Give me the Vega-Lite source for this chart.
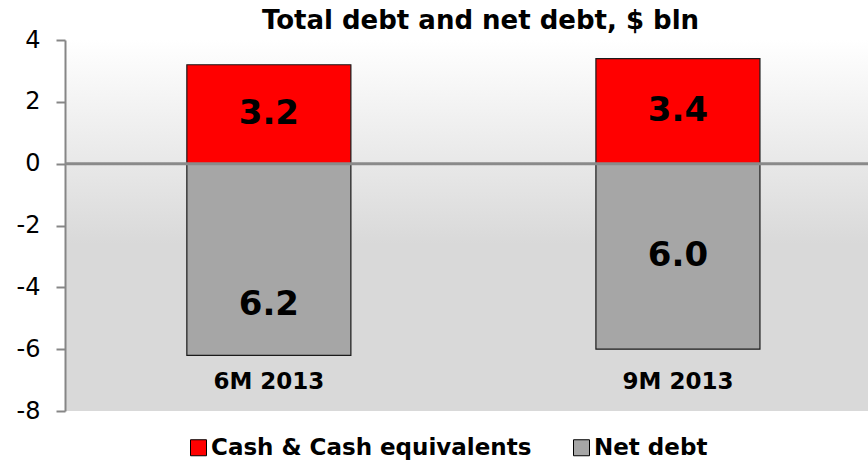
{
  "$schema": "https://vega.github.io/schema/vega-lite/v6.json",
  "width": 803,
  "height": 371,
  "autosize": {"type": "none"},
  "padding": {"left": 65, "top": 40, "right": 0, "bottom": 53},
  "background": "white",
  "title": {
    "text": "Total debt and net debt, $ bln",
    "font": "DejaVu Sans",
    "fontSize": 26,
    "fontWeight": "bold",
    "color": "#000000",
    "anchor": "middle",
    "frame": "group",
    "dx": 14,
    "offset": 8,
    "dy": 14
  },
  "data": {
    "values": [
      {"period": "6M 2013", "series": "Cash & Cash equivalents", "value": 3.2},
      {"period": "6M 2013", "series": "Net debt", "value": -6.2},
      {"period": "9M 2013", "series": "Cash & Cash equivalents", "value": 3.4},
      {"period": "9M 2013", "series": "Net debt", "value": -6.0}
    ]
  },
  "transform": [
    {"calculate": "format(abs(datum.value), '.1f')", "as": "label"},
    {"calculate": "datum.value / 2", "as": "mid"}
  ],
  "layer": [
    {
      "mark": {"type": "bar", "stroke": "#1a1a1a", "strokeWidth": 1.2},
      "encoding": {
        "x": {
          "field": "period",
          "type": "nominal",
          "axis": null,
          "scale": {"paddingInner": 0.599, "paddingOuter": 0.281, "align": 0.53}
        },
        "y": {
          "field": "value",
          "type": "quantitative",
          "title": null,
          "scale": {"domain": [-8, 4], "nice": false, "zero": false},
          "axis": {
            "values": [-8, -6, -4, -2, 0, 2, 4],
            "labelExpr": "(datum.value < 0 ? '-' : '') + abs(datum.value)",
            "grid": false,
            "domainColor": "#868686",
            "domainWidth": 2,
            "tickColor": "#868686",
            "tickWidth": 2,
            "tickSize": 9,
            "labelFont": "DejaVu Sans",
            "labelFontSize": 24,
            "labelColor": "#000000",
            "labelPadding": 16,
            "labelFlush": false,
            "labelOverlap": false
          }
        },
        "color": {
          "field": "series",
          "type": "nominal",
          "scale": {"domain": ["Cash & Cash equivalents", "Net debt"], "range": ["#ff0000", "#a6a6a6"]},
          "legend": {
            "title": null,
            "orient": "none",
            "legendX": 122,
            "legendY": 396,
            "direction": "horizontal",
            "symbolType": "square",
            "symbolSize": 256,
            "symbolStrokeColor": "#000000",
            "symbolStrokeWidth": 1,
            "symbolOpacity": 1,
            "labelFont": "DejaVu Sans",
            "labelFontSize": 23,
            "labelFontWeight": "bold",
            "labelColor": "#000000",
            "labelOffset": 1,
            "columnPadding": 38,
            "labelLimit": 500
          }
        }
      }
    },
    {
      "data": {"values": [{"line": "zero"}]},
      "mark": {"type": "rule", "color": "#8a8a8a", "strokeWidth": 3},
      "encoding": {"y": {"datum": 0, "type": "quantitative", "title": null}}
    },
    {
      "transform": [{"filter": "!(datum.period == '6M 2013' && datum.series == 'Net debt')"}],
      "mark": {"type": "text", "font": "DejaVu Sans", "fontSize": 34, "fontWeight": "bold", "color": "#000000", "align": "center", "baseline": "middle"},
      "encoding": {
        "x": {"field": "period", "type": "nominal"},
        "y": {"field": "mid", "type": "quantitative", "title": null},
        "text": {"field": "label"}
      }
    },
    {
      "transform": [{"filter": "datum.period == '6M 2013' && datum.series == 'Net debt'"}],
      "mark": {"type": "text", "font": "DejaVu Sans", "fontSize": 34, "fontWeight": "bold", "color": "#000000", "align": "center", "baseline": "middle"},
      "encoding": {
        "x": {"field": "period", "type": "nominal"},
        "y": {"datum": -4.57, "type": "quantitative", "title": null},
        "text": {"field": "label"}
      }
    },
    {
      "transform": [{"filter": "datum.series == 'Net debt'"}],
      "mark": {"type": "text", "font": "DejaVu Sans", "fontSize": 23, "fontWeight": "bold", "color": "#000000", "align": "center", "baseline": "middle"},
      "encoding": {
        "x": {"field": "period", "type": "nominal"},
        "y": {"datum": -7.05, "type": "quantitative", "title": null},
        "text": {"field": "period"}
      }
    }
  ],
  "config": {
    "view": {
      "stroke": null,
      "fill": {
        "gradient": "linear",
        "x1": 0, "y1": 0, "x2": 0, "y2": 1,
        "stops": [
          {"offset": 0, "color": "#ffffff"},
          {"offset": 0.55, "color": "#d9d9d9"},
          {"offset": 1, "color": "#d9d9d9"}
        ]
      }
    }
  }
}
